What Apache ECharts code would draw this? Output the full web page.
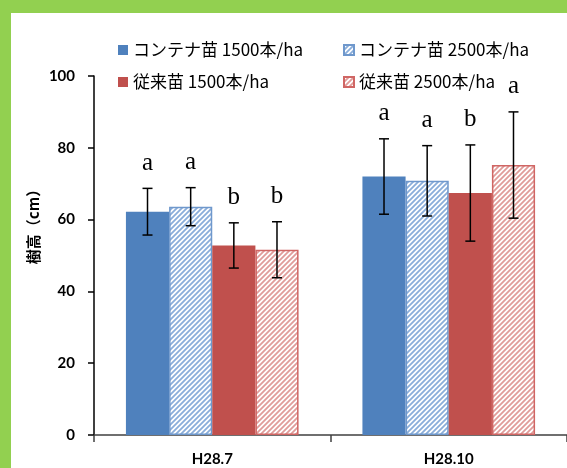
<!DOCTYPE html>
<html>
<head>
<meta charset="utf-8">
<script src="https://cdn.jsdelivr.net/npm/echarts@6/dist/echarts.min.js"></script>
<style>
html,body{margin:0;padding:0;background:#fff;}
#chart{width:567px;height:468px;}
</style>
</head>
<body>
<div id="chart"></div>
<script>
// ---- data ----
const categories = ['H28.7', 'H28.10'];
const seriesNames = ['コンテナ苗 1500本/ha', 'コンテナ苗 2500本/ha', '従来苗 1500本/ha', '従来苗 2500本/ha'];
const container1500 = [62.2, 72.0];
const container2500 = [63.6, 70.8];
const conventional1500 = [52.8, 67.4];
const conventional2500 = [51.6, 75.2];
const err_container1500 = [6.5, 10.5];
const err_container2500 = [5.3, 9.8];
const err_conventional1500 = [6.3, 13.4];
const err_conventional2500 = [7.8, 14.8];
const letters_container1500 = ['a', 'a'];
const letters_container2500 = ['a', 'a'];
const letters_conventional1500 = ['b', 'b'];
const letters_conventional2500 = ['b', 'a'];
const yTicks = [0, 20, 40, 60, 80, 100];
const yAxisTitle = '樹高（cm）';

const means = [container1500, container2500, conventional1500, conventional2500];
const errs = [err_container1500, err_container2500, err_conventional1500, err_conventional2500];
const letters = [letters_container1500, letters_container2500, letters_conventional1500, letters_conventional2500];

function hatch(color) {
  const p = 5;
  const c = document.createElement('canvas');
  c.width = p; c.height = p;
  const ctx = c.getContext('2d');
  ctx.fillStyle = '#ffffff';
  ctx.fillRect(0, 0, p, p);
  ctx.strokeStyle = color;
  ctx.lineWidth = 1.8;
  ctx.beginPath();
  ctx.moveTo(0, p); ctx.lineTo(p, 0);
  ctx.moveTo(-1, 1); ctx.lineTo(1, -1);
  ctx.moveTo(p - 1, p + 1); ctx.lineTo(p + 1, p - 1);
  ctx.stroke();
  return { image: c, repeat: 'repeat' };
}

const BLUE = '#4F81BD', RED = '#C0504D';
const styles = [
  { color: BLUE },
  { color: hatch('#8AADDA'), borderColor: '#6F98CC', borderWidth: 1.5 },
  { color: RED },
  { color: hatch('#E09C9A'), borderColor: '#D06664', borderWidth: 1.5 }
];
const GAP = 0.27;

const errData = [];
for (let s = 0; s < 4; s++) {
  for (let c = 0; c < categories.length; c++) {
    errData.push([c, s, means[s][c], errs[s][c], letters[s][c]]);
  }
}

const series = seriesNames.map((name, s) => ({
  name: name,
  type: 'bar',
  data: means[s],
  barGap: '0%',
  barCategoryGap: (GAP * 100) + '%',
  itemStyle: styles[s],
  emphasis: { disabled: true },
  z: 2
}));

series.push({
  type: 'custom',
  name: 'err',
  data: errData,
  z: 5,
  silent: true,
  renderItem: function (params, api) {
    const c = api.value(0), s = api.value(1), m = api.value(2), e = api.value(3);
    const letter = errData[params.dataIndex][4];
    const band = api.size([1, 0])[0];
    const bw = band * (1 - GAP) / 4;
    const cx = api.coord([c, 0])[0] + (s - 1.5) * bw;
    const yT = api.coord([c, m + e])[1];
    const yB = api.coord([c, m - e])[1];
    const cap = 5;
    const st = { stroke: '#000', lineWidth: 1.5 };
    return {
      type: 'group',
      children: [
        { type: 'line', shape: { x1: cx, y1: yT, x2: cx, y2: yB }, style: st },
        { type: 'line', shape: { x1: cx - cap, y1: yT, x2: cx + cap, y2: yT }, style: st },
        { type: 'line', shape: { x1: cx - cap, y1: yB, x2: cx + cap, y2: yB }, style: st },
        { type: 'text', style: { text: letter, x: cx, y: yT - 25, align: 'center', verticalAlign: 'middle',
            font: '25px "Liberation Serif", "DejaVu Serif", serif', fill: '#000' } }
      ]
    };
  }
});

const legendText = { fontFamily: '"Noto Sans CJK JP", sans-serif', fontSize: 17, color: '#000', lineHeight: 20 };
const legendCommon = { orient: 'vertical', top: 35, icon: 'rect', itemWidth: 10, itemHeight: 10, itemGap: 12,
  textStyle: legendText, selectedMode: false };

const chart = echarts.init(document.getElementById('chart'));
chart.setOption({
  animation: false,
  graphic: [
    { type: 'rect', shape: { x: 0, y: 0, width: 567, height: 13 }, style: { fill: '#92D050' }, z: 100 },
    { type: 'rect', shape: { x: 0, y: 0, width: 11, height: 468 }, style: { fill: '#92D050' }, z: 100 },
    { type: 'text', x: 33, y: 223, rotation: Math.PI / 2,
      style: { text: yAxisTitle, align: 'center', verticalAlign: 'middle',
        font: 'bold 15px "Noto Sans CJK JP", sans-serif', fill: '#000' } }
  ],
  legend: [
    Object.assign({ left: 113, data: [seriesNames[0], seriesNames[2]] }, legendCommon),
    Object.assign({ left: 338, data: [seriesNames[1], seriesNames[3]] }, legendCommon)
  ],
  grid: { left: 94, right: -3, top: 76, bottom: 33, containLabel: false },
  xAxis: {
    type: 'category',
    data: categories,
    axisLine: { lineStyle: { color: '#404040', width: 1.5 } },
    axisTick: { show: true, length: 7, lineStyle: { color: '#404040', width: 1.5 } },
    axisLabel: { margin: 17, fontSize: 15, fontWeight: 'bold', color: '#000', fontFamily: 'Lato, "Noto Sans", sans-serif' }
  },
  yAxis: {
    type: 'value',
    min: 0, max: 100, interval: 20,
    axisLine: { show: true, lineStyle: { color: '#000', width: 1.5 } },
    axisTick: { show: true, length: 6, lineStyle: { color: '#000', width: 1.5 } },
    splitLine: { show: false },
    axisLabel: { margin: 19, fontSize: 15, fontWeight: 'bold', color: '#000', fontFamily: 'Lato, "Noto Sans", sans-serif',
      formatter: v => yTicks.includes(v) ? String(v) : '' }
  },
  series: series
});
</script>
</body>
</html>
